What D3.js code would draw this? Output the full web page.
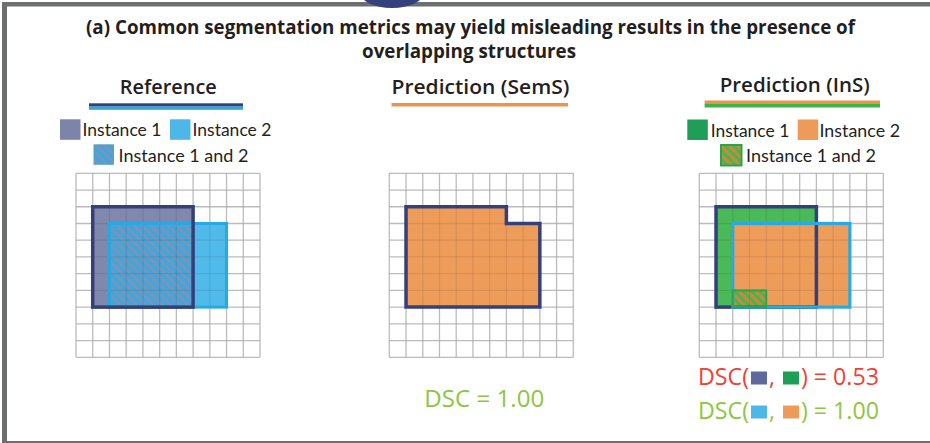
<!DOCTYPE html>
<html><head><meta charset="utf-8">
<script src="https://cdn.jsdelivr.net/npm/d3@7"></script>
<style>body{margin:0;background:#fff}</style>
</head><body>
<svg id="c" width="930" height="443"></svg>
<script>
// ---------- data ----------
const titleLines = ["(a) Common segmentation metrics may yield misleading results in the presence of", "overlapping structures"];
const panelTitles = ["Reference", "Prediction (SemS)", "Prediction (InS)"];
const legendLabels = ["Instance 1", "Instance 2", "Instance 1 and 2"];
const gridCells = 11;
// cell-index rectangles
const refInstances = [{x0: 1, x1: 7, y0: 2, y1: 8}, {x0: 2, x1: 9, y0: 3, y1: 8}];
const refOverlap = {x0: 2, x1: 7, y0: 3, y1: 8};
const semsVertices = [[1, 2], [7, 2], [7, 3], [9, 3], [9, 8], [1, 8]];
const insInstances = [{x0: 1, x1: 7, y0: 2, y1: 8}, {x0: 2, x1: 9, y0: 3, y1: 8}];
const insOverlap = {x0: 2, x1: 4, y0: 7, y1: 8};
const dscSemS = 1.00;
const dscIns = [0.53, 1.00];

// ---------- styles ----------
const C = {
  frame: "#6d6e71", navy: "#34407a", text: "#231f20",
  refFill1: "#8088ad", refSw1: "#7c84aa", lightBlue: "#29a9e1", refFill2: "#50baea", refSw2: "#4db8e8",
  orange: "#ee9c5a", orangeSw: "#ee9b59", green: "#4ab958", greenSw: "#1f9e57",
  red: "#ef4136", lime: "#8dc63f", grid: "#cbcdcf", sqNavy: "#5d6a9b"
};
const svg = d3.select("#c");
const defs = svg.append("defs");
function hatch(id, bg, stripe, sw) {
  const p = defs.append("pattern").attr("id", id).attr("patternUnits", "userSpaceOnUse")
    .attr("width", 6).attr("height", 6).attr("patternTransform", "rotate(-45)");
  p.append("rect").attr("width", 6).attr("height", 6).attr("fill", bg);
  p.append("rect").attr("width", sw).attr("height", 6).attr("fill", stripe);
}
hatch("hRef", "#3ba8de", "#8a8fb0", 2.4);
hatch("hIns", "#c98a3e", "#4bb44f", 3);

// ---------- frame ----------
svg.append("line").attr("x1", 2).attr("x2", 930).attr("y1", 4.2).attr("y2", 4.2).attr("stroke", C.frame).attr("stroke-width", 4.5);
svg.append("line").attr("x1", 4.5).attr("x2", 4.5).attr("y1", 2).attr("y2", 443).attr("stroke", C.frame).attr("stroke-width", 5);
svg.append("line").attr("x1", 2).attr("x2", 930).attr("y1", 442).attr("y2", 442).attr("stroke", C.frame).attr("stroke-width", 2);
svg.append("ellipse").attr("cx", 392).attr("cy", -9).attr("rx", 33).attr("ry", 17).attr("fill", C.navy);

// ---------- title ----------
const titleGeom = [{cx: 470.5, y: 34, w: 769}, {cx: 469, y: 57.5, w: 214}];
titleLines.forEach((t, i) => {
  svg.append("text").attr("x", titleGeom[i].cx).attr("y", titleGeom[i].y).attr("text-anchor", "middle")
    .attr("font-family", "Open Sans").attr("font-weight", 700).attr("font-size", 19).attr("fill", C.text)
    .attr("textLength", titleGeom[i].w).attr("lengthAdjust", "spacingAndGlyphs").text(t);
});

// ---------- panel headers ----------
const headGeom = [{cx: 168.3, y: 93.5, w: 97}, {cx: 480.5, y: 93.5, w: 178}, {cx: 794.7, y: 91.5, w: 150}];
panelTitles.forEach((t, i) => {
  svg.append("text").attr("x", headGeom[i].cx).attr("y", headGeom[i].y).attr("text-anchor", "middle")
    .attr("font-family", "Open Sans").attr("font-weight", 600).attr("font-size", 20).attr("fill", C.text)
    .attr("textLength", headGeom[i].w).attr("lengthAdjust", "spacingAndGlyphs").text(t);
});
function bar(x0, x1, y0, h, col) { svg.append("rect").attr("x", x0).attr("y", y0).attr("width", x1 - x0).attr("height", h).attr("fill", col); }
bar(89, 243, 103.3, 3.3, C.navy); bar(89, 243, 106.6, 3.2, C.lightBlue);
bar(391.5, 568, 103, 3.5, "#ec9350");
bar(704.6, 880, 100.5, 3.5, "#ec9350"); bar(704.6, 880, 104, 3.5, "#3db44a");

// ---------- legends ----------
function legend(items) {
  items.forEach(d => {
    svg.append("rect").attr("x", d.sx).attr("y", d.sy).attr("width", 20.5).attr("height", 20.5)
      .attr("fill", d.fill).attr("stroke", d.stroke || "none").attr("stroke-width", 2);
    svg.append("text").attr("x", d.tx).attr("y", d.ty).attr("font-family", "Lato").attr("font-size", 17.5)
      .attr("fill", C.text).attr("textLength", d.w).attr("lengthAdjust", "spacingAndGlyphs").text(d.label);
  });
}
legend([
  {sx: 60, sy: 119.3, fill: C.refSw1, tx: 82.5, ty: 136, w: 79, label: legendLabels[0]},
  {sx: 170, sy: 119.3, fill: C.refSw2, tx: 192.5, ty: 136, w: 79, label: legendLabels[1]},
  {sx: 93.5, sy: 144.3, fill: "url(#hRef)", tx: 118.5, ty: 161.5, w: 130, label: legendLabels[2]}
]);
legend([
  {sx: 687.3, sy: 119.5, fill: C.greenSw, tx: 710.7, ty: 136.5, w: 78.6, label: legendLabels[0]},
  {sx: 797.7, sy: 119.5, fill: C.orangeSw, tx: 819.5, ty: 136.5, w: 80.5, label: legendLabels[1]},
  {sx: 721, sy: 145, fill: "url(#hIns)", stroke: "#2aa54a", tx: 746, ty: 161.5, w: 130, label: legendLabels[2]}
]);

// ---------- grids ----------
const gridLeft = [76, 389.3, 699.3], gridTop = 173.3, gridPx = 184;
function gridLines(g, x, y, col, op) {
  const idx = d3.range(gridCells + 1);
  g.selectAll(null).data(idx).join("line").attr("x1", d => x(d)).attr("x2", d => x(d))
    .attr("y1", y(0)).attr("y2", y(gridCells)).attr("stroke", col).attr("stroke-opacity", op).attr("stroke-width", 1.3);
  g.selectAll(null).data(idx).join("line").attr("y1", d => y(d)).attr("y2", d => y(d))
    .attr("x1", x(0)).attr("x2", x(gridCells)).attr("stroke", col).attr("stroke-opacity", op).attr("stroke-width", 1.3);
}
const panels = gridLeft.map(gx => {
  const x = d3.scaleLinear().domain([0, gridCells]).range([gx, gx + gridPx]);
  const y = d3.scaleLinear().domain([0, gridCells]).range([gridTop, gridTop + gridPx]);
  const g = svg.append("g");
  gridLines(g, x, y, C.grid, 1);
  const fills = g.append("g");
  const over = g.append("g");
  const outl = g.append("g");
  return {x, y, g, fills, over, outl};
});
panels.forEach(p => gridLines(p.over, p.x, p.y, "#000", 0.08));
function rect(layer, p, r, attrs) {
  const el = layer.append("rect").attr("x", p.x(r.x0)).attr("y", p.y(r.y0))
    .attr("width", p.x(r.x1) - p.x(r.x0)).attr("height", p.y(r.y1) - p.y(r.y0));
  Object.entries(attrs).forEach(([k, v]) => el.attr(k, v));
  return el;
}
// Reference panel
const P0 = panels[0];
rect(P0.fills, P0, refInstances[0], {fill: C.refFill1});
rect(P0.fills, P0, refInstances[1], {fill: C.refFill2});
rect(P0.fills, P0, refOverlap, {fill: "url(#hRef)"});
rect(P0.outl, P0, refInstances[1], {fill: "none", stroke: C.lightBlue, "stroke-width": 3});
rect(P0.outl, P0, refInstances[0], {fill: "none", stroke: C.navy, "stroke-width": 3.5});
// SemS panel
const P1 = panels[1];
const semsPath = d3.line().x(d => P1.x(d[0])).y(d => P1.y(d[1])).curve(d3.curveLinearClosed)(semsVertices);
P1.fills.append("path").attr("d", semsPath).attr("fill", C.orange);
P1.outl.append("path").attr("d", semsPath).attr("fill", "none").attr("stroke", C.navy).attr("stroke-width", 3.5);
// InS panel
const P2 = panels[2];
rect(P2.fills, P2, insInstances[0], {fill: C.green});
rect(P2.fills, P2, insInstances[1], {fill: C.orange});
rect(P2.fills, P2, insOverlap, {fill: "url(#hIns)"});
rect(P2.outl, P2, insInstances[0], {fill: "none", stroke: C.navy, "stroke-width": 3.5});
rect(P2.outl, P2, insInstances[1], {fill: "none", stroke: C.lightBlue, "stroke-width": 3.2});
rect(P2.outl, P2, insOverlap, {fill: "none", stroke: "#2aa54a", "stroke-width": 2});

// ---------- DSC ----------
svg.append("text").attr("x", 484.3).attr("y", 406.5).attr("text-anchor", "middle")
  .attr("font-family", "Open Sans").attr("font-size", 24).attr("fill", C.lime)
  .attr("textLength", 120).attr("lengthAdjust", "spacingAndGlyphs").text("DSC = " + dscSemS.toFixed(2));
function dscLine(cx, base, color, squares, value, width) {
  const pieces = [{t: "DSC("}, {sq: squares[0]}, {t: ","}, {gap: 6}, {sq: squares[1]}, {t: ") = " + value.toFixed(2)}];
  function layout(fs) {
    const grp = svg.append("g");
    let x = 0, tw = 0, fixed = 0;
    pieces.forEach(p => {
      if (p.t) {
        const el = grp.append("text").attr("x", x).attr("y", base).attr("font-family", "Open Sans")
          .attr("font-size", fs).attr("fill", color).attr("xml:space", "preserve").text(p.t);
        const w = el.node().getComputedTextLength(); x += w; tw += w;
      } else if (p.gap) { x += p.gap; fixed += p.gap; }
      else {
        x += 2;
        grp.append("rect").attr("x", x).attr("y", base - 13).attr("width", 16).attr("height", 13).attr("fill", p.sq);
        x += 18; fixed += 20;
      }
    });
    return {grp, x, tw, fixed};
  }
  const first = layout(24);
  first.grp.remove();
  const fs = 24 * (width - first.fixed) / first.tw;
  const fin = layout(fs);
  fin.grp.attr("transform", `translate(${cx - fin.x / 2},0)`);
}
dscLine(788.5, 384.5, C.red, [C.sqNavy, C.greenSw], dscIns[0], 181);
dscLine(788.5, 418.5, C.lime, [C.refSw2, C.orangeSw], dscIns[1], 181);
</script>
</body></html>
